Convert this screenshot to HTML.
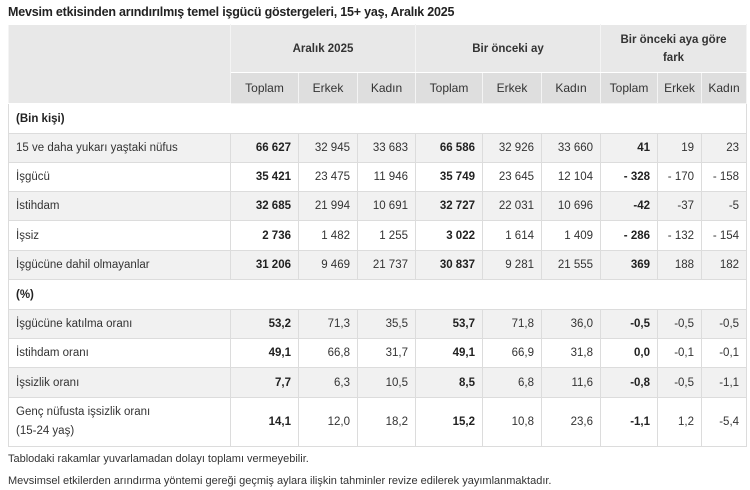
<!DOCTYPE html>
<html><head><meta charset="utf-8"><style>
html,body{margin:0;padding:0;background:#fff;width:750px;height:490px;overflow:hidden}
body{font-family:"Liberation Sans",sans-serif;color:#333;font-size:11.5px}
.title{position:absolute;left:8px;top:5px;font-weight:bold;font-size:12.5px;color:#222;letter-spacing:-0.2px}
table{position:absolute;left:8px;top:24px;border-collapse:collapse;table-layout:fixed;width:738px}
td{border:1px solid #dcdcdc;padding:0 7px;text-align:right;white-space:nowrap;overflow:hidden}
td.l{text-align:left}
tr.g td{background:#f1f1f1}
tr.h1 td{background:#e8e8e8;text-align:center;font-weight:bold;border-color:#fff #f4f4f4}
tr.h2 td{background:#dedede;text-align:center;border-color:#f4f4f4;font-size:12px}
tr.h1 td.e{background:#e8e8e8}
b{color:#222}
.n{position:absolute;left:8px;font-size:11px;color:#333}
</style></head><body>
<div class="title">Mevsim etkisinden arındırılmış temel işgücü göstergeleri, 15+ yaş, Aralık 2025</div>
<table>
<colgroup><col style="width:222px"><col style="width:68px"><col style="width:59px"><col style="width:58px"><col style="width:67px"><col style="width:59px"><col style="width:59px"><col style="width:57px"><col style="width:44px"><col style="width:45px"></colgroup>
<tr class="h1" style="height:48px"><td class="e" rowspan="2"></td><td colspan="3">Aralık 2025</td><td colspan="3">Bir önceki ay</td><td colspan="3" style="line-height:18px">Bir önceki aya göre<br>fark</td></tr>
<tr class="h2" style="height:31px"><td>Toplam</td><td>Erkek</td><td>Kadın</td><td>Toplam</td><td>Erkek</td><td>Kadın</td><td style="padding:0 2px">Toplam</td><td style="padding:0 2px">Erkek</td><td style="padding:0 2px">Kadın</td></tr>
<tr style="height:30px"><td class="l" colspan="10"><b>(Bin kişi)</b></td></tr>
<tr class="g" style="height:29px"><td class="l">15 ve daha yukarı yaştaki nüfus</td><td><b>66 627</b></td><td>32 945</td><td>33 683</td><td><b>66 586</b></td><td>32 926</td><td>33 660</td><td><b>41</b></td><td>19</td><td>23</td></tr>
<tr style="height:29px"><td class="l">İşgücü</td><td><b>35 421</b></td><td>23 475</td><td>11 946</td><td><b>35 749</b></td><td>23 645</td><td>12 104</td><td><b>- 328</b></td><td>- 170</td><td>- 158</td></tr>
<tr class="g" style="height:29px"><td class="l">İstihdam</td><td><b>32 685</b></td><td>21 994</td><td>10 691</td><td><b>32 727</b></td><td>22 031</td><td>10 696</td><td><b>-42</b></td><td>-37</td><td>-5</td></tr>
<tr style="height:30px"><td class="l">İşsiz</td><td><b>2 736</b></td><td>1 482</td><td>1 255</td><td><b>3 022</b></td><td>1 614</td><td>1 409</td><td><b>- 286</b></td><td>- 132</td><td>- 154</td></tr>
<tr class="g" style="height:29px"><td class="l">İşgücüne dahil olmayanlar</td><td><b>31 206</b></td><td>9 469</td><td>21 737</td><td><b>30 837</b></td><td>9 281</td><td>21 555</td><td><b>369</b></td><td>188</td><td>182</td></tr>
<tr style="height:30px"><td class="l" colspan="10"><b>(%)</b></td></tr>
<tr class="g" style="height:29px"><td class="l">İşgücüne katılma oranı</td><td><b>53,2</b></td><td>71,3</td><td>35,5</td><td><b>53,7</b></td><td>71,8</td><td>36,0</td><td><b>-0,5</b></td><td>-0,5</td><td>-0,5</td></tr>
<tr style="height:29px"><td class="l">İstihdam oranı</td><td><b>49,1</b></td><td>66,8</td><td>31,7</td><td><b>49,1</b></td><td>66,9</td><td>31,8</td><td><b>0,0</b></td><td>-0,1</td><td>-0,1</td></tr>
<tr class="g" style="height:30px"><td class="l">İşsizlik oranı</td><td><b>7,7</b></td><td>6,3</td><td>10,5</td><td><b>8,5</b></td><td>6,8</td><td>11,6</td><td><b>-0,8</b></td><td>-0,5</td><td>-1,1</td></tr>
<tr style="height:49px"><td class="l" style="line-height:19px">Genç nüfusta işsizlik oranı<br>(15-24 yaş)</td><td><b>14,1</b></td><td>12,0</td><td>18,2</td><td><b>15,2</b></td><td>10,8</td><td>23,6</td><td><b>-1,1</b></td><td>1,2</td><td>-5,4</td></tr>
</table>
<div class="n" style="top:453px">Tablodaki rakamlar yuvarlamadan dolayı toplamı vermeyebilir.</div>
<div class="n" style="top:475px">Mevsimsel etkilerden arındırma yöntemi gereği geçmiş aylara ilişkin tahminler revize edilerek yayımlanmaktadır.</div>
</body></html>
